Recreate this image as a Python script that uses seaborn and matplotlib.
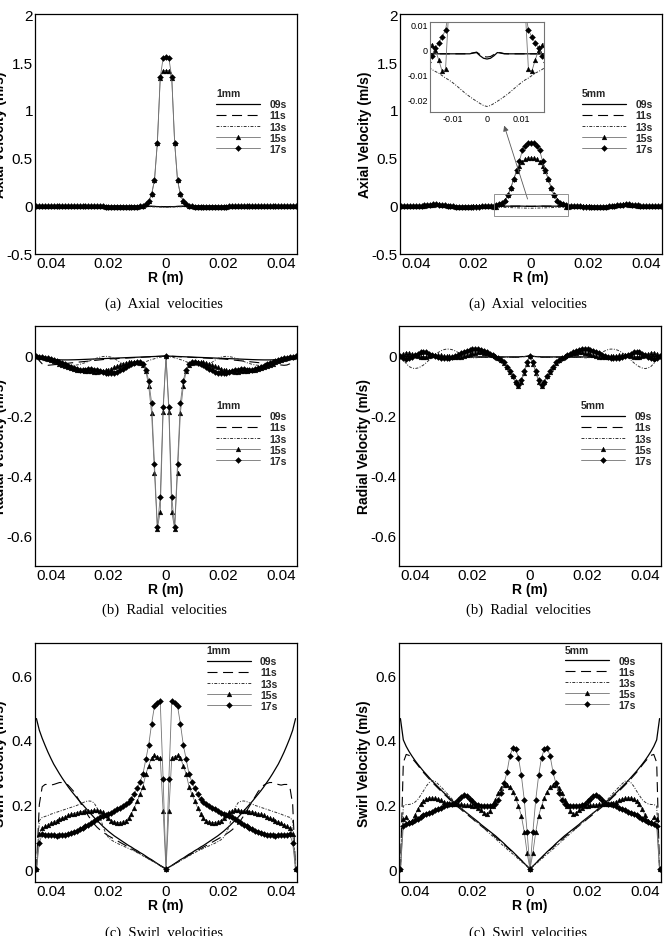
import numpy as np
import pandas as pd
import matplotlib
matplotlib.use("Agg")
import matplotlib.pyplot as plt
import seaborn as sns
from matplotlib.lines import Line2D
from matplotlib.patches import Rectangle
from matplotlib.ticker import AutoMinorLocator

sns.set_theme(style="white")
plt.rcParams['font.family'] = ['Liberation Sans', 'DejaVu Sans']

# radial positions of the half profile (r >= 0), mirrored for r < 0
R_HALF = [0.000, 0.001, 0.002, 0.003, 0.004, 0.005, 0.006, 0.007, 0.008, 0.009,
          0.010, 0.011, 0.012, 0.013, 0.014, 0.015, 0.016, 0.017, 0.018, 0.019,
          0.020, 0.021, 0.022, 0.023, 0.024, 0.025, 0.026, 0.027, 0.028, 0.029,
          0.030, 0.031, 0.032, 0.033, 0.034, 0.035, 0.036, 0.037, 0.038, 0.039,
          0.040, 0.041, 0.042, 0.043, 0.044, 0.045]
TIMES = ['09s', '11s', '13s', '15s', '17s']

# ---- axial velocity, 1mm ----
AXIAL_1MM_09 = [-0.008, -0.008, -0.007, -0.006, -0.005, -0.004, -0.003, -0.002, -0.002, -0.001,
                -0.001, 0.0, 0.0, 0.0, 0.0, 0.0, 0.0, 0.0, 0.0, 0.0,
                0.0, 0.0, 0.0, 0.0, 0.0, 0.0, 0.0, 0.0, 0.0, 0.0,
                0.0, 0.0, 0.0, 0.0, 0.0, 0.0, 0.0, 0.0, 0.0, 0.0,
                0.0, 0.0, 0.0, 0.0, 0.0, 0.0]
AXIAL_1MM_11 = [-0.006, -0.006, -0.005, -0.005, -0.004, -0.003, -0.002, -0.002, -0.001, -0.001,
                0.0, 0.0, 0.0, 0.0, 0.0, 0.0, 0.0, 0.0, 0.0, 0.0,
                0.0, 0.0, 0.0, 0.0, 0.0, 0.0, 0.0, 0.0, 0.0, 0.0,
                0.0, 0.0, 0.0, 0.0, 0.0, 0.0, 0.0, 0.0, 0.0, 0.0,
                0.0, 0.0, 0.0, 0.0, 0.0, 0.0]
AXIAL_1MM_13 = [-0.012, -0.012, -0.011, -0.01, -0.009, -0.008, -0.007, -0.006, -0.005, -0.004,
                -0.003, -0.002, -0.002, -0.001, -0.001, 0.0, 0.0, 0.0, 0.0, 0.0,
                0.0, 0.0, 0.0, 0.0, 0.0, 0.0, 0.0, 0.0, 0.0, 0.0,
                0.0, 0.0, 0.0, 0.0, 0.0, 0.0, 0.0, 0.0, 0.0, 0.0,
                0.0, 0.0, 0.0, 0.0, 0.0, 0.0]
AXIAL_1MM_15 = [1.41, 1.41, 1.33, 0.66, 0.27, 0.12, 0.05, 0.02, 0.005, -0.005,
                -0.01, -0.012, -0.013, -0.013, -0.012, -0.012, -0.011, -0.01, -0.009, -0.008,
                -0.007, -0.006, -0.005, -0.004, -0.003, -0.002, -0.002, -0.001, -0.001, 0.0,
                0.0, 0.0, 0.0, 0.0, 0.0, 0.0, 0.0, 0.0, 0.0, 0.0,
                0.0, 0.0, 0.0, 0.0, 0.0, 0.0]
AXIAL_1MM_17 = [1.55, 1.54, 1.34, 0.66, 0.27, 0.12, 0.05, 0.02, 0.005, -0.005,
                -0.01, -0.012, -0.013, -0.013, -0.012, -0.012, -0.011, -0.01, -0.009, -0.008,
                -0.007, -0.006, -0.005, -0.004, -0.003, -0.002, -0.002, -0.001, -0.001, 0.0,
                0.0, 0.0, 0.0, 0.0, 0.0, 0.0, 0.0, 0.0, 0.0, 0.0,
                0.0, 0.0, 0.0, 0.0, 0.0, 0.0]

# ---- axial velocity, 5mm ----
AXIAL_5MM_09 = [-0.0038, -0.0035, -0.0025, -0.0012, -0.0014, -0.0017, -0.0017, -0.0017, -0.0017, -0.0017,
                -0.0017, -0.0017, -0.0017, -0.0017, -0.0017, -0.0017, -0.0017, -0.0017, -0.0017, -0.0017,
                -0.0017, -0.0017, -0.0017, -0.0017, -0.0017, -0.0017, -0.0017, -0.0017, -0.0017, -0.0017,
                -0.0017, -0.0017, -0.0017, -0.0017, -0.0017, -0.0017, -0.0017, -0.0017, -0.0017, -0.0017,
                -0.0017, -0.0017, -0.0012, -0.0008, -0.0004, 0.0]
AXIAL_5MM_11 = [-0.003, -0.0028, -0.002, -0.001, -0.0013, -0.0016, -0.0017, -0.0017, -0.0017, -0.0017,
                -0.0017, -0.0017, -0.0017, -0.0017, -0.0017, -0.0017, -0.0017, -0.0017, -0.0017, -0.0017,
                -0.0017, -0.0017, -0.0017, -0.0017, -0.0017, -0.0017, -0.0017, -0.0017, -0.0017, -0.0017,
                -0.0017, -0.0017, -0.0017, -0.0017, -0.0017, -0.0017, -0.0017, -0.0017, -0.0017, -0.0017,
                -0.0017, -0.0017, -0.0012, -0.0008, -0.0004, 0.0]
AXIAL_5MM_13 = [-0.023, -0.0226, -0.0218, -0.0209, -0.02, -0.019, -0.018, -0.0168, -0.0156, -0.0144,
                -0.0133, -0.0123, -0.0115, -0.0105, -0.0095, -0.0088, -0.008, -0.007, -0.006, -0.005,
                -0.004, -0.003, -0.0022, -0.0015, -0.001, -0.0007, -0.0005, -0.0004, -0.0003, -0.0002,
                -0.0002, -0.0002, -0.0002, -0.0002, -0.0002, -0.0002, -0.0002, -0.0002, -0.0002, -0.0002,
                -0.0002, -0.0002, -0.0002, -0.0001, -0.0001, 0.0]
AXIAL_5MM_15 = [0.50, 0.50, 0.49, 0.46, 0.42, 0.36, 0.28, 0.19, 0.115, 0.06,
                0.035, 0.018, -0.008, -0.0087, -0.004, 0.0, 0.002, 0.003, 0.002, 0.0,
                -0.003, -0.006, -0.008, -0.009, -0.009, -0.008, -0.006, -0.003, 0.0, 0.005,
                0.01, 0.014, 0.016, 0.016, 0.014, 0.01, 0.006, 0.002, -0.002, -0.004,
                -0.004, -0.003, -0.002, 0.0, 0.002, 0.0]
AXIAL_5MM_17 = [0.66, 0.655, 0.63, 0.58, 0.47, 0.37, 0.28, 0.19, 0.11, 0.055,
                0.03, 0.016, 0.008, 0.005, 0.0027, 0.0005, -0.0025, -0.005, -0.007, -0.008,
                -0.009, -0.01, -0.01, -0.01, -0.009, -0.008, -0.006, -0.003, 0.0, 0.004,
                0.008, 0.012, 0.015, 0.017, 0.017, 0.015, 0.012, 0.008, 0.004, 0.0,
                -0.003, -0.004, -0.003, -0.002, 0.0, 0.0]

# ---- radial velocity, 1mm ----
RADIAL_1MM_09 = [0.0, -0.0004, -0.0008, -0.0012, -0.0016, -0.002, -0.0024, -0.0028, -0.0032, -0.0036,
                 -0.004, -0.0044, -0.0048, -0.0052, -0.0056, -0.006, -0.0064, -0.0068, -0.0072, -0.0076,
                 -0.008, -0.0084, -0.0088, -0.0092, -0.0096, -0.01, -0.0104, -0.0108, -0.0112, -0.0116,
                 -0.012, -0.0123, -0.0126, -0.0128, -0.013, -0.013, -0.013, -0.0128, -0.0125, -0.012,
                 -0.011, -0.0095, -0.0078, -0.0058, -0.0032, 0.0]
RADIAL_1MM_11 = [0.0, -0.0005, -0.001, -0.0015, -0.002, -0.0025, -0.003, -0.0035, -0.004, -0.0045,
                 -0.005, -0.0055, -0.006, -0.0065, -0.007, -0.0075, -0.008, -0.0085, -0.009, -0.0095,
                 -0.01, -0.011, -0.012, -0.013, -0.014, -0.015, -0.016, -0.017, -0.018, -0.019,
                 -0.02, -0.021, -0.022, -0.023, -0.024, -0.025, -0.026, -0.027, -0.028, -0.029,
                 -0.03, -0.031, -0.03, -0.026, -0.016, 0.0]
RADIAL_1MM_13 = [0.0, -0.002, -0.004, -0.006, -0.009, -0.012, -0.015, -0.019, -0.023, -0.027,
                 -0.03, -0.032, -0.033, -0.033, -0.031, -0.027, -0.021, -0.014, -0.008, -0.004,
                 -0.002, -0.001, -0.002, -0.004, -0.007, -0.01, -0.014, -0.018, -0.022, -0.025,
                 -0.028, -0.03, -0.031, -0.031, -0.03, -0.028, -0.025, -0.021, -0.017, -0.013,
                 -0.009, -0.006, -0.004, -0.002, -0.001, 0.0]
RADIAL_1MM_15 = [0.0, -0.185, -0.52, -0.575, -0.39, -0.19, -0.1, -0.05, -0.03, -0.022,
                 -0.02, -0.02, -0.02, -0.021, -0.023, -0.026, -0.03, -0.034, -0.038, -0.042,
                 -0.045, -0.048, -0.05, -0.051, -0.052, -0.052, -0.051, -0.05, -0.049, -0.048,
                 -0.047, -0.045, -0.043, -0.04, -0.037, -0.033, -0.029, -0.025, -0.021, -0.017,
                 -0.013, -0.01, -0.007, -0.004, -0.002, 0.0]
RADIAL_1MM_17 = [0.0, -0.17, -0.47, -0.57, -0.36, -0.156, -0.082, -0.045, -0.025, -0.02,
                 -0.02, -0.022, -0.026, -0.031, -0.037, -0.043, -0.048, -0.052, -0.055, -0.056,
                 -0.056, -0.055, -0.053, -0.05, -0.047, -0.045, -0.044, -0.044, -0.045, -0.046,
                 -0.045, -0.043, -0.04, -0.036, -0.032, -0.028, -0.024, -0.02, -0.016, -0.013,
                 -0.01, -0.008, -0.006, -0.004, -0.002, 0.0]

# ---- radial velocity, 5mm ----
RADIAL_5MM_09 = [0.0, -0.001, -0.002, -0.002, -0.003, -0.003, -0.003, -0.003, -0.003, -0.003,
                 -0.003, -0.003, -0.003, -0.003, -0.003, -0.003, -0.003, -0.003, -0.003, -0.003,
                 -0.003, -0.003, -0.003, -0.003, -0.003, -0.003, -0.003, -0.003, -0.003, -0.003,
                 -0.003, -0.003, -0.003, -0.003, -0.003, -0.003, -0.003, -0.003, -0.003, -0.003,
                 -0.003, -0.002, -0.002, -0.001, -0.001, 0.0]
RADIAL_5MM_11 = [0.0, -0.001, -0.002, -0.003, -0.004, -0.004, -0.004, -0.004, -0.004, -0.004,
                 -0.004, -0.004, -0.004, -0.004, -0.004, -0.004, -0.004, -0.004, -0.004, -0.004,
                 -0.004, -0.004, -0.004, -0.004, -0.004, -0.004, -0.004, -0.004, -0.004, -0.004,
                 -0.004, -0.004, -0.004, -0.004, -0.004, -0.004, -0.004, -0.004, -0.004, -0.004,
                 -0.004, -0.003, -0.003, -0.002, -0.001, 0.0]
RADIAL_5MM_13 = [0.0, -0.001, -0.002, -0.003, -0.003, -0.003, -0.004, -0.004, -0.004, -0.004,
                 -0.004, -0.004, -0.004, -0.004, -0.004, -0.004, -0.004, -0.005, -0.005, -0.006,
                 -0.006, -0.005, -0.003, 0.001, 0.006, 0.012, 0.017, 0.021, 0.023, 0.023,
                 0.021, 0.017, 0.011, 0.004, -0.004, -0.013, -0.022, -0.03, -0.036, -0.04,
                 -0.042, -0.04, -0.035, -0.025, -0.012, 0.0]
RADIAL_5MM_15 = [0.0, -0.025, -0.055, -0.085, -0.1, -0.088, -0.068, -0.052, -0.037, -0.022,
                 -0.013, -0.006, -0.001, 0.003, 0.006, 0.009, 0.011, 0.012, 0.012, 0.011,
                 0.009, 0.006, 0.003, 0.0, -0.002, -0.003, -0.003, -0.002, -0.001, 0.0,
                 0.001, 0.002, 0.003, 0.003, 0.002, 0.0, -0.002, -0.003, -0.002, 0.0,
                 0.003, 0.007, 0.01, 0.011, 0.008, 0.0]
RADIAL_5MM_17 = [0.0, -0.02, -0.05, -0.08, -0.095, -0.085, -0.065, -0.05, -0.035, -0.02,
                 -0.012, -0.006, -0.002, 0.002, 0.007, 0.012, 0.017, 0.021, 0.024, 0.024,
                 0.023, 0.021, 0.018, 0.014, 0.009, 0.004, 0.0, -0.003, -0.005, -0.006,
                 -0.006, -0.005, -0.003, 0.0, 0.004, 0.008, 0.012, 0.013, 0.012, 0.008,
                 0.002, -0.004, -0.008, -0.01, -0.008, 0.0]

# ---- swirl velocity, 1mm ----
SWIRL_1MM_09 = [0.0, 0.006, 0.011, 0.017, 0.023, 0.029, 0.034, 0.04, 0.046, 0.051,
                0.057, 0.062, 0.068, 0.073, 0.079, 0.085, 0.091, 0.097, 0.103, 0.11,
                0.117, 0.125, 0.133, 0.142, 0.151, 0.16, 0.17, 0.18, 0.19, 0.2,
                0.21, 0.221, 0.232, 0.243, 0.255, 0.268, 0.281, 0.295, 0.31, 0.325,
                0.343, 0.362, 0.383, 0.405, 0.43, 0.466]
SWIRL_1MM_11 = [0.0, 0.0055, 0.011, 0.016, 0.021, 0.027, 0.032, 0.037, 0.043, 0.048,
                0.053, 0.058, 0.063, 0.068, 0.073, 0.078, 0.083, 0.088, 0.093, 0.098,
                0.103, 0.109, 0.115, 0.122, 0.13, 0.14, 0.152, 0.165, 0.18, 0.195,
                0.21, 0.225, 0.24, 0.25, 0.26, 0.265, 0.268, 0.268, 0.265, 0.262,
                0.26, 0.262, 0.262, 0.255, 0.2, 0.0]
SWIRL_1MM_13 = [0.0, 0.005, 0.01, 0.016, 0.021, 0.026, 0.031, 0.036, 0.041, 0.046,
                0.051, 0.056, 0.06, 0.064, 0.068, 0.072, 0.076, 0.08, 0.085, 0.09,
                0.098, 0.112, 0.135, 0.165, 0.19, 0.205, 0.21, 0.211, 0.209, 0.205,
                0.201, 0.197, 0.194, 0.191, 0.188, 0.185, 0.182, 0.179, 0.176, 0.173,
                0.17, 0.166, 0.163, 0.16, 0.15, 0.0]
SWIRL_1MM_15 = [0.0, 0.18, 0.345, 0.348, 0.352, 0.345, 0.32, 0.295, 0.255, 0.232,
                0.21, 0.19, 0.172, 0.158, 0.15, 0.146, 0.144, 0.144, 0.146, 0.15,
                0.158, 0.168, 0.177, 0.181, 0.182, 0.182, 0.181, 0.18, 0.179, 0.178,
                0.177, 0.175, 0.172, 0.169, 0.166, 0.162, 0.158, 0.154, 0.15, 0.146,
                0.142, 0.137, 0.132, 0.126, 0.11, 0.0]
SWIRL_1MM_17 = [0.0, 0.28, 0.52, 0.515, 0.505, 0.45, 0.385, 0.34, 0.295, 0.27,
                0.25, 0.233, 0.218, 0.207, 0.2, 0.195, 0.19, 0.185, 0.18, 0.175,
                0.17, 0.166, 0.163, 0.16, 0.154, 0.148, 0.142, 0.137, 0.132, 0.128,
                0.124, 0.119, 0.114, 0.111, 0.109, 0.107, 0.105, 0.104, 0.103, 0.104,
                0.104, 0.105, 0.107, 0.109, 0.08, 0.0]

# ---- swirl velocity, 5mm ----
SWIRL_5MM_09 = [0.0, 0.009, 0.018, 0.027, 0.036, 0.045, 0.054, 0.062, 0.07, 0.079,
                0.087, 0.095, 0.103, 0.11, 0.117, 0.124, 0.131, 0.138, 0.146, 0.153,
                0.16, 0.167, 0.174, 0.181, 0.189, 0.196, 0.204, 0.212, 0.22, 0.229,
                0.237, 0.246, 0.255, 0.264, 0.273, 0.283, 0.293, 0.303, 0.314, 0.325,
                0.337, 0.35, 0.364, 0.38, 0.40, 0.466]
SWIRL_5MM_11 = [0.0, 0.009, 0.018, 0.027, 0.035, 0.044, 0.052, 0.06, 0.068, 0.076,
                0.084, 0.091, 0.099, 0.106, 0.113, 0.12, 0.127, 0.134, 0.141, 0.148,
                0.156, 0.163, 0.17, 0.177, 0.185, 0.192, 0.2, 0.208, 0.216, 0.225,
                0.233, 0.242, 0.251, 0.26, 0.269, 0.279, 0.289, 0.299, 0.31, 0.322,
                0.333, 0.343, 0.352, 0.355, 0.33, 0.0]
SWIRL_5MM_13 = [0.0, 0.008, 0.016, 0.023, 0.031, 0.039, 0.047, 0.054, 0.062, 0.07,
                0.078, 0.086, 0.094, 0.102, 0.11, 0.118, 0.126, 0.134, 0.142, 0.15,
                0.158, 0.166, 0.174, 0.182, 0.19, 0.198, 0.207, 0.216, 0.226, 0.236,
                0.246, 0.255, 0.264, 0.272, 0.274, 0.268, 0.257, 0.242, 0.228, 0.215,
                0.207, 0.202, 0.2, 0.2, 0.195, 0.0]
SWIRL_5MM_15 = [0.0, 0.05, 0.115, 0.165, 0.195, 0.22, 0.24, 0.255, 0.26, 0.26,
                0.252, 0.235, 0.215, 0.195, 0.18, 0.172, 0.174, 0.182, 0.19, 0.194,
                0.196, 0.197, 0.198, 0.199, 0.2, 0.2, 0.2, 0.2, 0.203, 0.206,
                0.209, 0.213, 0.217, 0.219, 0.22, 0.22, 0.217, 0.21, 0.2, 0.185,
                0.166, 0.148, 0.145, 0.16, 0.155, 0.0]
SWIRL_5MM_17 = [0.0, 0.115, 0.215, 0.29, 0.345, 0.372, 0.375, 0.35, 0.3, 0.265,
                0.235, 0.215, 0.203, 0.197, 0.195, 0.194, 0.194, 0.195, 0.198, 0.203,
                0.21, 0.218, 0.225, 0.228, 0.224, 0.215, 0.205, 0.2, 0.2, 0.198,
                0.195, 0.19, 0.186, 0.182, 0.178, 0.174, 0.17, 0.166, 0.161, 0.156,
                0.151, 0.147, 0.143, 0.139, 0.133, 0.0]

R_TICKS = [-0.04, -0.02, 0.0, 0.02, 0.04]
R_TICK_LABELS = ['0.04', '0.02', '0', '0.02', '0.04']
AXIAL_TICKS = [-0.5, 0.0, 0.5, 1.0, 1.5, 2.0]
AXIAL_TICK_LABELS = ['-0.5', '0', '0.5', '1', '1.5', '2']
RADIAL_TICKS = [-0.6, -0.4, -0.2, 0.0]
RADIAL_TICK_LABELS = ['-0.6', '-0.4', '-0.2', '0']
SWIRL_TICKS = [0.0, 0.2, 0.4, 0.6]
SWIRL_TICK_LABELS = ['0', '0.2', '0.4', '0.6']
INSET_X_TICKS = [-0.01, 0.0, 0.01]
INSET_X_LABELS = ['-0.01', '0', '0.01']
INSET_Y_TICKS = [-0.02, -0.01, 0.0, 0.01]
INSET_Y_LABELS = ['-0.02', '-0.01', '0', '0.01']

STYLES = {
    '09s': dict(color='black', linewidth=0.9, linestyle='-'),
    '11s': dict(color='black', linewidth=0.8, linestyle=(0, (9, 5))),
    '13s': dict(color='0.2', linewidth=0.7, linestyle=(0, (3, 1.5, 1, 1.5))),
    '15s': dict(color='0.45', linewidth=0.6, linestyle='-', marker='^', markersize=3.4,
                markerfacecolor='black', markeredgecolor='black', markeredgewidth=0.3),
    '17s': dict(color='0.45', linewidth=0.6, linestyle='-', marker='D', markersize=3.0,
                markerfacecolor='black', markeredgecolor='black', markeredgewidth=0.3),
}


def mirror(vals):
    r = [-x for x in R_HALF[::-1]] + R_HALF[1:]
    v = vals[::-1] + vals[1:]
    return r, v


def draw_series(ax, series):
    for t in TIMES:
        r, v = mirror(series[t])
        df = pd.DataFrame({'R': r, 'V': v})
        sns.lineplot(data=df, x='R', y='V', ax=ax, estimator=None, sort=False, **STYLES[t])


W, H = 670, 937
fig = plt.figure(figsize=(W / 100, H / 100), dpi=100)
fig.patch.set_facecolor('white')

PANELS = [
    dict(box=(35, 15, 262, 240), kind='axial', size='1mm', leg=(0.691, 0.69),
         data=dict(zip(TIMES, [AXIAL_1MM_09, AXIAL_1MM_11, AXIAL_1MM_13, AXIAL_1MM_15, AXIAL_1MM_17]))),
    dict(box=(400, 15, 262, 240), kind='axial', size='5mm', leg=(0.695, 0.69),
         data=dict(zip(TIMES, [AXIAL_5MM_09, AXIAL_5MM_11, AXIAL_5MM_13, AXIAL_5MM_15, AXIAL_5MM_17]))),
    dict(box=(35, 327, 262, 240), kind='radial', size='1mm', leg=(0.691, 0.69),
         data=dict(zip(TIMES, [RADIAL_1MM_09, RADIAL_1MM_11, RADIAL_1MM_13, RADIAL_1MM_15, RADIAL_1MM_17]))),
    dict(box=(399, 327, 262, 240), kind='radial', size='5mm', leg=(0.695, 0.69),
         data=dict(zip(TIMES, [RADIAL_5MM_09, RADIAL_5MM_11, RADIAL_5MM_13, RADIAL_5MM_15, RADIAL_5MM_17]))),
    dict(box=(35, 644, 262, 239), kind='swirl', size='1mm', leg=(0.656, 0.99),
         data=dict(zip(TIMES, [SWIRL_1MM_09, SWIRL_1MM_11, SWIRL_1MM_13, SWIRL_1MM_15, SWIRL_1MM_17]))),
    dict(box=(399, 644, 262, 239), kind='swirl', size='5mm', leg=(0.634, 0.993),
         data=dict(zip(TIMES, [SWIRL_5MM_09, SWIRL_5MM_11, SWIRL_5MM_13, SWIRL_5MM_15, SWIRL_5MM_17]))),
]

KIND = {
    'axial': dict(ylim=(-0.5, 2.0), ticks=AXIAL_TICKS, labels=AXIAL_TICK_LABELS, minor=5,
                  ylabel='Axial Velocity (m/s)'),
    'radial': dict(ylim=(-0.7, 0.1), ticks=RADIAL_TICKS, labels=RADIAL_TICK_LABELS, minor=4,
                   ylabel='Radial Velocity (m/s)'),
    'swirl': dict(ylim=(-0.04, 0.7), ticks=SWIRL_TICKS, labels=SWIRL_TICK_LABELS, minor=4,
                  ylabel='Swirl Velocity (m/s)'),
}

leg_font = dict(family='Liberation Sans', weight='bold', size=7.5)
axes = []
for p in PANELS:
    x0, y0, w, h = p['box']
    ax = fig.add_axes([x0 / W, 1 - (y0 + h) / H, w / W, h / H])
    axes.append(ax)
    k = KIND[p['kind']]
    draw_series(ax, p['data'])
    ax.set_xlim(-0.0455, 0.0455)
    ax.set_ylim(*k['ylim'])
    ax.set_xticks(R_TICKS)
    ax.set_xticklabels(R_TICK_LABELS)
    ax.set_yticks(k['ticks'])
    ax.set_yticklabels(k['labels'])
    ax.xaxis.set_minor_locator(AutoMinorLocator(3))
    ax.yaxis.set_minor_locator(AutoMinorLocator(k['minor']))
    ax.tick_params(which='both', direction='in', top=False, right=False, width=0.6,
                   labelsize=11, colors='black')
    ax.tick_params(which='major', length=5)
    ax.tick_params(which='minor', length=2.5)
    ax.tick_params(axis='x', pad=1.8)
    ax.tick_params(axis='y', pad=1.5)
    for s in ax.spines.values():
        s.set_color('black')
        s.set_linewidth(0.9)
    ax.set_xlabel('R (m)', fontsize=10, fontweight='bold', color='black')
    ax.set_ylabel(k['ylabel'], fontsize=10, fontweight='bold', color='black')
    ax.xaxis.set_label_coords(0.5, -0.068)
    ax.yaxis.set_label_coords(-0.107, 0.5)
    handles = [Line2D([], [], **STYLES[t]) for t in TIMES]
    ax.legend(handles, TIMES, title=p['size'], loc='upper left', bbox_to_anchor=p['leg'],
              frameon=False, prop=leg_font, title_fontproperties=leg_font, alignment='left',
              handlelength=4.2, handletextpad=0.9, labelspacing=0.1, borderpad=0,
              borderaxespad=0)

# zoom box, arrow and inset on the 5mm axial panel
ax2 = axes[1]
ax2.add_patch(Rectangle((-0.013, -0.1), 0.026, 0.22, fill=False, edgecolor='0.5',
                        linewidth=0.6, zorder=4))
ax2.annotate('', xy=(-0.0096, 0.865), xytext=(-0.0009, 0.045),
             arrowprops=dict(arrowstyle='-|>', color='0.35', lw=0.6, mutation_scale=8))
axins = ax2.inset_axes([0.1145, 0.592, 0.435, 0.375])
axins.set_facecolor('white')
draw_series(axins, PANELS[1]['data'])
axins.set_xlim(-0.0165, 0.0165)
axins.set_ylim(-0.0252, 0.0112)
axins.set_xticks(INSET_X_TICKS)
axins.set_xticklabels(INSET_X_LABELS)
axins.set_yticks(INSET_Y_TICKS)
axins.set_yticklabels(INSET_Y_LABELS)
axins.tick_params(direction='in', length=3, width=0.5, labelsize=6.5, pad=1.5, colors='black')
axins.set_xlabel('')
axins.set_ylabel('')
for s in axins.spines.values():
    s.set_color('0.45')
    s.set_linewidth(0.8)

# captions
cap = dict(family='Liberation Serif', fontsize=10.5, ha='center', va='center', color='black')
for yc, txt in [(304, '(a)  Axial  velocities'), (610, '(b)  Radial  velocities'),
                (933, '(c)  Swirl  velocities')]:
    fig.text(164 / W, 1 - yc / H, txt, **cap)
    fig.text(528 / W, 1 - yc / H, txt, **cap)

fig.savefig('out.png', dpi=100)
